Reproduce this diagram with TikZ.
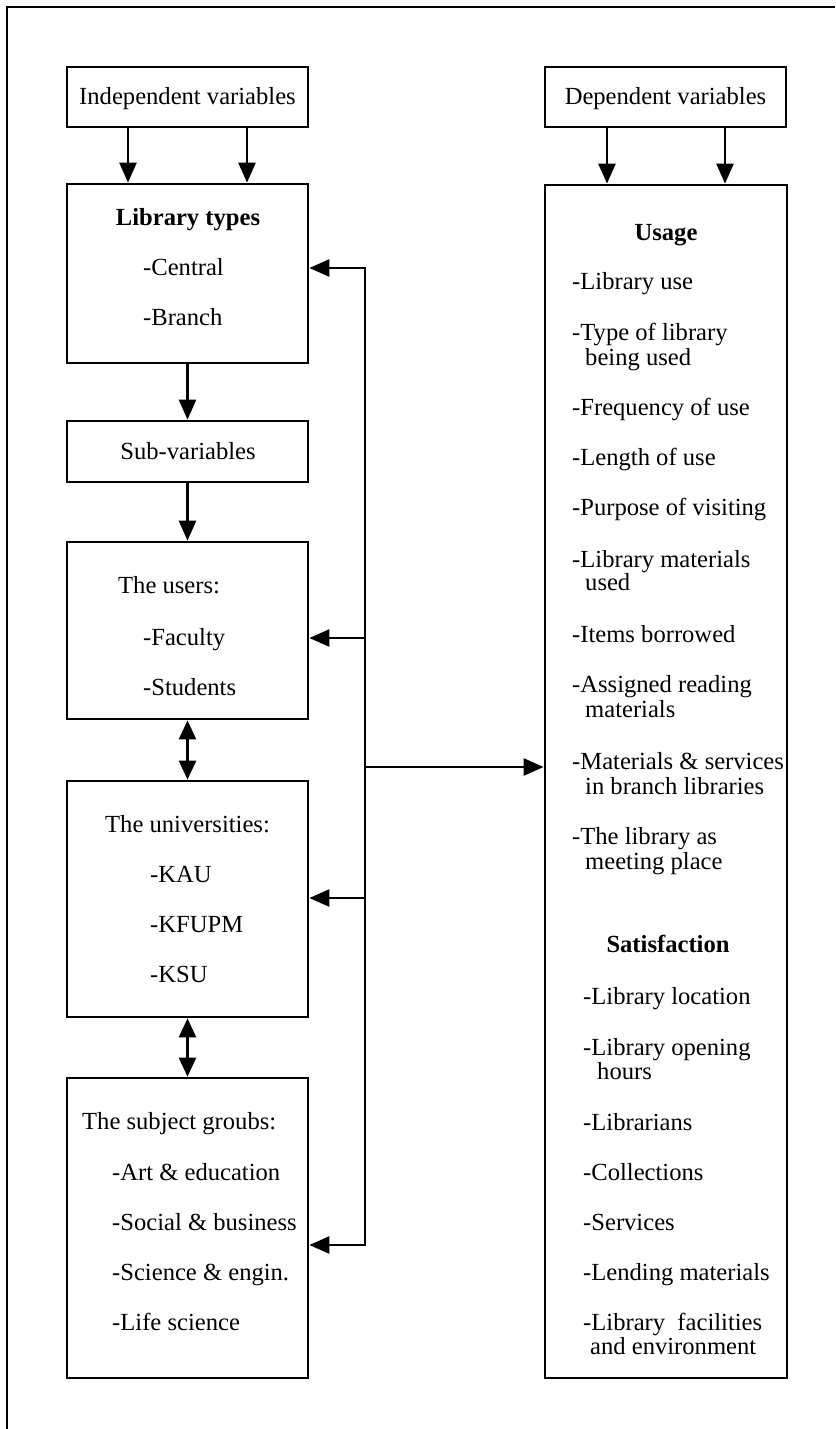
\documentclass[tikz,border=0pt]{standalone}
\usepackage{fontspec}
\setmainfont{Liberation Serif}
\usetikzlibrary{arrows.meta}

\begin{document}
\begin{tikzpicture}[x=1pt,y=-1pt,
  box/.style={draw, line width=2.7pt, inner sep=0pt, minimum width=241pt},
  wire/.style={line width=2.6pt},
  link/.style={line width=2.6pt, -{Triangle[length=20pt,width=17pt]}},
  twoway/.style={line width=2.6pt, {Triangle[length=19pt,width=17pt]}-{Triangle[length=19pt,width=17pt]}},
  txt/.style={anchor=base west, inner sep=0pt, font=\fontsize{24.6}{25}\selectfont},
  ctr/.style={anchor=base, inner sep=0pt, font=\fontsize{24.6}{25}\selectfont},
]
\useasboundingbox (0,0) rectangle (835,1429);
\fill[white] (0,0) rectangle (835,1429);

% outer frame (top and left edges)
\draw[line width=2.6pt] (7,1429) -- (7,7) -- (835,7);

% reference columns and rows for the connectors
\coordinate (cL1) at (128,0);
\coordinate (cL2) at (247,0);
\coordinate (cR1) at (607,0);
\coordinate (cR2) at (725,0);
\coordinate (bus) at (365,0);
\coordinate (rLib) at (0,268);
\coordinate (rUsr) at (0,638);
\coordinate (rUni) at (0,898);
\coordinate (rGrp) at (0,1245);
\coordinate (rDep) at (0,767);

% boxes
\node[box, minimum height=60pt]   (indep)    at (187.5,97)    {};
\node[box, minimum height=60pt]   (dep)      at (665.5,97)    {};
\node[box, minimum height=179pt]  (libtypes) at (187.5,273.5) {};
\node[box, minimum height=61pt]   (subvar)   at (187.5,451.5) {};
\node[box, minimum height=177pt]  (users)    at (187.5,630.5) {};
\node[box, minimum height=236pt]  (univ)     at (187.5,899)   {};
\node[box, minimum height=300pt]  (subj)     at (187.5,1228)  {};
\node[box, minimum width=242pt, minimum height=1193pt] (usage) at (666,781.5) {};

% header texts
\node[ctr] (tInd) at (187.5,104) {Independent variables};
\node[ctr] (tDep) at (665.5,104) {Dependent variables};

% left column texts
\node[ctr] (tLib) at (188,225) {\bfseries Library types};
\node[txt] (tCen) at (143,275) {-Central};
\node[txt] (tBra) at (143,325) {-Branch};
\node[ctr] (tSub) at (188,459) {Sub-variables};
\node[txt] (tUsr) at (118,593) {The users:};
\node[txt] (tFac) at (143,645) {-Faculty};
\node[txt] (tStu) at (143,695) {-Students};
\node[txt] (tUni) at (105,832) {The universities:};
\node[txt] (tKAU) at (150,882) {-KAU};
\node[txt] (tKFU) at (150,932) {-KFUPM};
\node[txt] (tKSU) at (150,982) {-KSU};
\node[txt] (tGrp) at (82,1129) {The subject groubs:};
\node[txt] (tArt) at (112,1180) {-Art \& education};
\node[txt] (tSoc) at (112,1230) {-Social \& business};
\node[txt] (tSci) at (112,1280) {-Science \& engin.};
\node[txt] (tLif) at (112,1330) {-Life science};

% right column texts
\node[ctr] (tUsg) at (666,240) {\bfseries Usage};
\node[txt] (u1)  at (572,289) {-Library use};
\node[txt] (u2)  at (572,340) {-Type of library};
\node[txt] (u2b) at (585,365) {being used};
\node[txt] (u3)  at (572,415) {-Frequency of use};
\node[txt] (u4)  at (572,465) {-Length of use};
\node[txt] (u5)  at (572,515) {-Purpose of visiting};
\node[txt] (u6)  at (572,567) {-Library materials};
\node[txt] (u6b) at (585,590) {used};
\node[txt] (u7)  at (572,642) {-Items borrowed};
\node[txt] (u8)  at (572,692) {-Assigned reading};
\node[txt] (u8b) at (585,717) {materials};
\node[txt] (u9)  at (572,769) {-Materials \& services};
\node[txt] (u9b) at (585,794) {in branch libraries};
\node[txt] (u10) at (572,844) {-The library as};
\node[txt] (u10b) at (585,869) {meeting place};
\node[ctr] (tSat) at (668,952) {\bfseries Satisfaction};
\node[txt] (s1)  at (583,1004) {-Library location};
\node[txt] (s2)  at (583,1055) {-Library opening};
\node[txt] (s2b) at (597,1079) {hours};
\node[txt] (s3)  at (583,1130) {-Librarians};
\node[txt] (s4)  at (583,1180) {-Collections};
\node[txt] (s5)  at (583,1230) {-Services};
\node[txt] (s6)  at (583,1280) {-Lending materials};
\node[txt] (s7)  at (583,1330) {-Library\ \ facilities};
\node[txt] (s7b) at (590,1354) {and environment};

% connectors from the header boxes
\draw[link] (indep.south -| cL1) -- (libtypes.north -| cL1);
\draw[link] (indep.south -| cL2) -- (libtypes.north -| cL2);
\draw[link] (dep.south -| cR1) -- (usage.north -| cR1);
\draw[link] (dep.south -| cR2) -- (usage.north -| cR2);

% chain down the left column
\draw[link] (libtypes.south) -- (subvar.north);
\draw[link] (subvar.south) -- (users.north);
\draw[twoway] (users.south) -- (univ.north);
\draw[twoway] (univ.south) -- (subj.north);

% common bus joining the left boxes to the dependent side
\draw[wire, line cap=rect] (bus |- rLib) -- (bus |- rGrp);
\draw[link] (bus |- rLib) -- (libtypes.east |- rLib);
\draw[link] (bus |- rUsr) -- (users.east |- rUsr);
\draw[link] (bus |- rUni) -- (univ.east |- rUni);
\draw[link] (bus |- rGrp) -- (subj.east |- rGrp);
\draw[link] (bus |- rDep) -- (usage.west |- rDep);
\end{tikzpicture}
\end{document}
